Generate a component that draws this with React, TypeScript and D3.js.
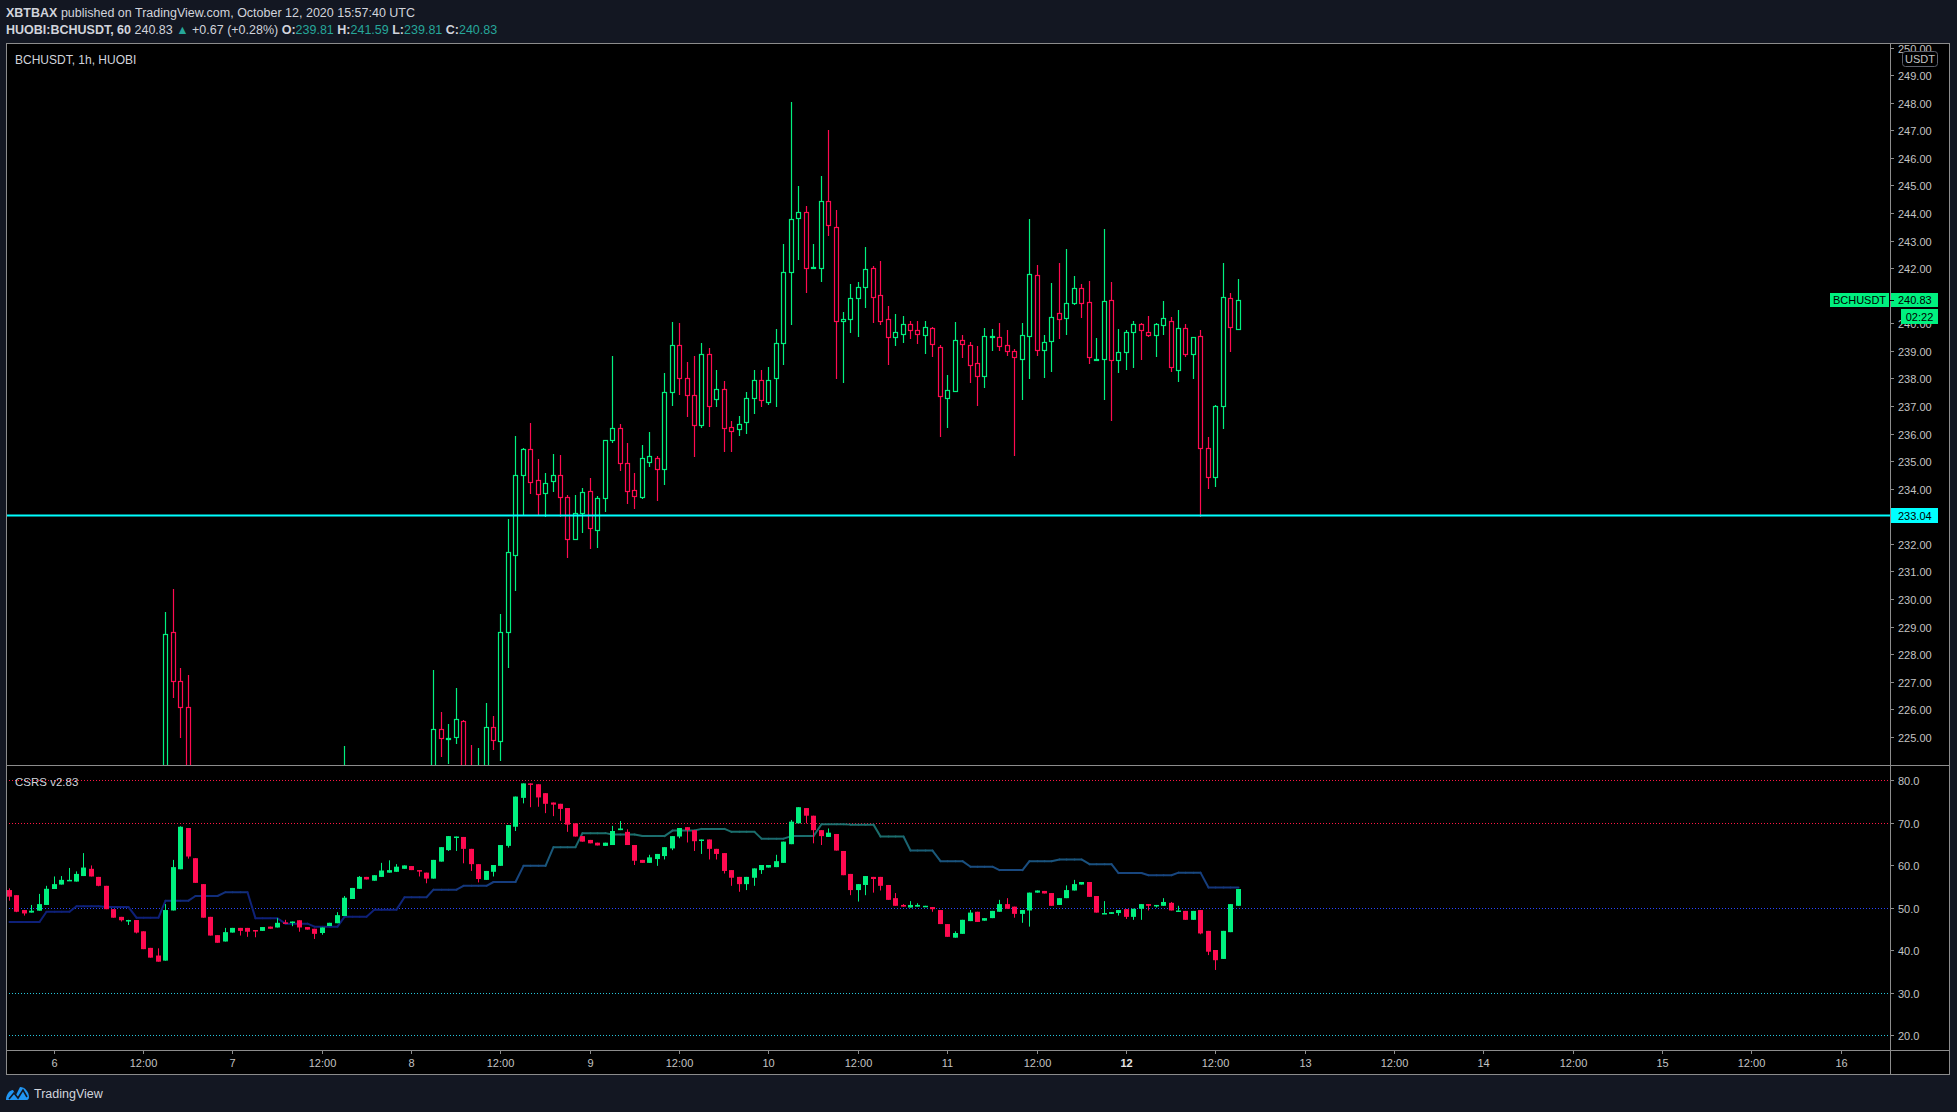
import React from 'react';
import * as d3 from 'd3';

// ---------- time axis ----------
const firstCandleUtc = Date.UTC(2020, 9, 5, 18);
const lastCandleUtc = Date.UTC(2020, 9, 12, 15);
const dayTicks = [6, 7, 8, 9, 10, 11, 12, 13, 14, 15, 16];
const priceTicks = [225, 226, 227, 228, 229, 230, 231, 232, 233, 234, 235, 236, 237, 238, 239, 240, 241, 242, 243, 244, 245, 246, 247, 248, 249, 250];
const csrsTicks = [20, 30, 40, 50, 60, 70, 80];

// ---------- BCHUSDT 1h OHLC (Oct 5 18:00 → Oct 12 15:00 UTC) ----------
const priceOpen = [
  222.4, 222.1, 221.7, 221.5, 222.0, 222.4, 222.9, 223.1, 223.3, 223.2, 223.4, 223.6, 223.1, 222.7, 222.1, 221.7, 221.4, 221.4, 220.9, 220.4,
  220.1, 220.5, 228.81, 227.02, 226.08, 223.0, 222.5, 221.9, 221.3, 221.0, 221.6, 221.9, 221.7, 221.5, 221.4, 221.8, 221.7, 222.1, 222.0, 222.1,
  221.6, 221.5, 221.1, 221.6, 221.9, 222.5, 223.4, 223.7, 223.8, 223.5, 223.7, 223.8, 223.85, 223.9, 223.9, 223.6, 223.5, 223.1, 225.28, 224.95,
  225.01, 225.57, 223.5, 223.3, 223.8, 225.35, 224.84, 228.82, 231.61, 234.49, 235.43, 234.3, 233.86, 234.29, 234.49, 233.69, 232.17, 233.13, 233.91, 232.52,
  233.65, 235.76, 236.19, 234.92, 233.95, 233.69, 234.96, 235.1, 234.7, 237.5, 239.2, 238.0, 237.4, 236.3, 238.9, 237.25, 237.6, 236.23, 236.16, 236.41,
  237.3, 237.94, 237.16, 238.0, 239.27, 241.85, 243.8, 244.03, 242.0, 242.0, 244.42, 243.48, 240.07, 240.14, 240.9, 241.3, 241.99, 241.04, 240.14, 239.5,
  239.62, 239.96, 239.74, 239.56, 239.82, 239.13, 237.28, 237.55, 239.39, 239.2, 238.55, 238.08, 239.5, 239.5, 239.2, 238.99, 238.72, 239.53, 241.74, 239.04,
  239.35, 240.36, 240.18, 240.73, 241.27, 240.76, 238.66, 238.72, 240.83, 238.66, 238.97, 239.68, 239.96, 239.67, 239.56, 239.92, 240.1, 238.32, 239.82, 238.9,
  239.53, 235.47, 234.41, 236.99, 240.9, 239.81,
];
const priceHigh = [
  222.9, 222.3, 222.0, 222.2, 222.6, 223.1, 223.3, 223.5, 223.7, 223.6, 223.8, 223.7, 223.3, 222.8, 222.3, 221.9, 221.6, 221.5, 221.1, 220.6,
  220.9, 229.53, 230.36, 227.5, 227.24, 223.6, 222.8, 222.1, 221.6, 221.9, 222.1, 222.0, 221.9, 221.8, 222.0, 222.0, 222.3, 222.4, 222.3, 222.2,
  221.8, 221.6, 221.8, 222.1, 222.7, 224.67, 223.9, 223.95, 223.9, 223.9, 223.95, 223.95, 223.95, 223.95, 223.95, 223.8, 223.7, 227.43, 225.9, 225.47,
  226.78, 225.6, 224.71, 224.6, 226.22, 225.76, 229.46, 232.9, 235.91, 235.47, 236.38, 235.08, 234.57, 235.26, 235.22, 233.76, 233.76, 234.02, 234.38, 233.73,
  235.76, 238.8, 236.35, 235.65, 234.57, 235.57, 236.05, 235.2, 238.2, 240.05, 240.0, 238.6, 238.8, 239.3, 239.1, 238.3, 237.9, 236.45, 236.63, 237.5,
  238.3, 238.31, 238.4, 239.79, 242.87, 248.02, 244.98, 244.26, 242.87, 245.35, 247.01, 244.1, 240.41, 241.41, 241.49, 242.76, 242.06, 242.25, 240.61, 240.32,
  240.28, 240.07, 240.07, 240.07, 239.85, 239.2, 238.11, 240.04, 239.57, 239.31, 239.17, 239.82, 239.79, 240.0, 239.74, 239.08, 240.0, 243.77, 242.1, 239.56,
  241.45, 242.18, 242.69, 241.71, 241.41, 241.52, 239.46, 243.41, 241.49, 239.79, 239.75, 240.07, 240.0, 240.25, 240.0, 240.81, 240.22, 240.47, 239.96, 239.52,
  239.74, 235.87, 237.03, 242.19, 241.09, 241.59,
];
const priceLow = [
  221.8, 221.5, 221.2, 221.4, 221.8, 222.2, 222.6, 222.9, 223.0, 222.9, 223.1, 223.0, 222.5, 221.9, 221.5, 221.2, 221.0, 220.7, 220.2, 219.8,
  219.6, 220.3, 226.42, 224.97, 222.6, 222.2, 221.6, 221.0, 220.8, 220.9, 221.4, 221.4, 221.3, 221.2, 221.3, 221.5, 221.6, 221.8, 221.7, 221.4,
  221.3, 220.9, 221.0, 221.5, 221.8, 222.3, 223.1, 223.3, 223.3, 223.3, 223.4, 223.5, 223.5, 223.6, 223.5, 223.2, 222.9, 222.9, 224.28, 224.03,
  224.73, 223.2, 223.0, 223.1, 223.6, 224.53, 224.14, 227.51, 230.3, 233.05, 233.82, 233.05, 232.99, 233.89, 232.99, 231.5, 232.17, 232.41, 231.83, 231.86,
  233.17, 235.67, 234.63, 233.44, 233.25, 233.62, 234.8, 233.54, 234.12, 237.0, 237.4, 236.59, 235.16, 236.2, 236.25, 236.98, 235.34, 235.34, 235.92, 235.97,
  236.71, 236.98, 237.04, 236.98, 238.49, 239.94, 242.28, 241.11, 242.0, 241.49, 243.18, 237.99, 237.85, 239.65, 239.52, 240.54, 240.01, 239.93, 238.5, 239.17,
  239.28, 239.42, 239.24, 238.88, 238.77, 235.87, 236.19, 237.5, 238.73, 237.83, 237.01, 237.65, 238.99, 238.99, 238.81, 235.2, 237.22, 237.99, 238.82, 238.03,
  238.24, 239.42, 239.59, 240.68, 240.18, 238.51, 238.66, 237.22, 236.47, 238.21, 238.32, 238.39, 238.66, 239.49, 238.79, 239.56, 238.24, 237.88, 238.79, 237.99,
  232.99, 234.0, 234.05, 236.18, 238.97, 239.81,
];
const priceClose = [
  222.1, 221.7, 221.5, 222.0, 222.4, 222.9, 223.1, 223.3, 223.2, 223.4, 223.6, 223.1, 222.7, 222.1, 221.7, 221.4, 221.4, 220.9, 220.4, 220.1,
  220.5, 228.72, 227.02, 226.1, 223.0, 222.5, 221.9, 221.3, 221.0, 221.6, 221.9, 221.7, 221.5, 221.4, 221.8, 221.7, 222.1, 222.0, 222.1, 221.6,
  221.5, 221.1, 221.6, 221.9, 222.5, 223.4, 223.7, 223.8, 223.5, 223.7, 223.8, 223.85, 223.9, 223.9, 223.6, 223.5, 223.1, 225.28, 224.95, 224.97,
  225.64, 223.5, 223.3, 223.8, 225.35, 224.88, 228.8, 231.69, 234.49, 235.43, 234.23, 233.82, 234.2, 234.49, 233.69, 232.17, 233.11, 233.87, 232.59, 233.65,
  235.76, 236.19, 234.92, 233.91, 233.73, 235.1, 235.18, 234.7, 237.5, 239.2, 238.0, 237.4, 236.3, 238.9, 237.0, 237.6, 236.19, 236.1, 236.34, 237.3,
  237.94, 237.22, 237.96, 239.27, 241.85, 243.77, 244.03, 241.99, 242.05, 244.42, 243.55, 240.07, 240.17, 240.9, 241.3, 241.95, 240.97, 240.1, 239.5, 239.68,
  239.96, 239.74, 239.6, 239.85, 239.24, 237.36, 237.57, 239.39, 239.24, 238.48, 238.08, 239.53, 239.53, 239.17, 238.99, 238.77, 239.56, 241.77, 239.04, 239.31,
  240.22, 240.14, 240.72, 241.27, 240.72, 238.77, 238.72, 240.8, 238.66, 238.97, 239.7, 239.96, 239.74, 239.56, 239.96, 240.18, 238.4, 239.82, 238.9, 239.49,
  235.47, 234.41, 236.99, 240.94, 239.85, 240.83,
];

// ---------- CSRS v2.83 indicator candles ----------
const csrsOpen = [
  54.1, 52.9, 49.4, 48.8, 49.25, 50.6, 54.35, 55.4, 56.4, 56.1, 57.4, 59.1, 57.2, 55.1, 49.6, 47.8, 47.0, 47.05, 44.4, 40.5,
  38.7, 37.5, 49.3, 59.0, 68.7, 61.6, 55.5, 47.8, 43.5, 42.0, 44.1, 45.2, 45.2, 44.7, 44.5, 45.5, 45.3, 46.5, 46.6, 47.0,
  45.4, 45.0, 44.0, 45.65, 46.3, 48.0, 52.0, 54.4, 57.2, 56.3, 57.2, 58.2, 58.4, 59.1, 59.75, 58.8, 58.2, 56.8, 60.8, 63.5,
  66.4, 66.6, 63.8, 60.2, 56.5, 58.4, 59.8, 64.5, 69.0, 75.8, 79.2, 79.0, 76.9, 74.7, 74.4, 73.4, 69.8, 66.8, 65.9, 65.25,
  64.5, 64.7, 68.2, 67.8, 64.7, 61.2, 60.5, 61.4, 62.1, 63.9, 66.7, 68.9, 68.2, 65.7, 66.0, 63.8, 62.8, 58.8, 57.2, 55.5,
  57.0, 58.8, 59.4, 59.5, 60.5, 64.9, 69.8, 73.4, 71.6, 68.2, 66.6, 67.3, 63.3, 57.9, 54.1, 55.3, 57.2, 57.2, 55.3, 52.2,
  50.6, 50.0, 50.2, 50.2, 50.1, 49.4, 46.1, 42.9, 43.8, 46.8, 49.0, 46.9, 47.5, 49.0, 50.8, 50.2, 48.5, 49.3, 53.5, 53.9,
  53.4, 50.6, 52.2, 54.0, 55.4, 56.0, 52.7, 48.6, 48.5, 48.7, 49.6, 47.8, 49.7, 50.8, 50.4, 50.4, 51.1, 49.2, 49.2, 47.1,
  49.4, 44.5, 40.0, 37.9, 44.2, 50.4,
];
const csrsHigh = [
  54.5, 52.9, 49.4, 50.6, 53.2, 55.1, 57.3, 57.4, 59.3, 58.5, 62.8, 59.9, 57.2, 55.1, 49.6, 47.8, 47.1, 47.05, 44.4, 40.5,
  40.4, 50.8, 61.2, 69.1, 68.7, 61.6, 55.5, 47.8, 43.5, 45.2, 45.2, 45.2, 45.2, 44.7, 45.4, 45.5, 47.5, 47.1, 46.7, 47.0,
  45.4, 45.0, 45.3, 46.4, 48.9, 52.7, 54.6, 57.4, 57.2, 57.6, 60.5, 61.1, 60.2, 59.9, 59.75, 58.8, 58.2, 61.2, 64.2, 66.8,
  66.7, 66.6, 63.8, 60.2, 58.6, 60.0, 64.7, 69.4, 76.1, 79.2, 79.2, 79.0, 76.9, 74.7, 74.4, 73.4, 69.8, 66.8, 65.9, 65.25,
  65.25, 69.2, 70.35, 68.4, 64.7, 61.2, 62.4, 62.6, 64.2, 66.8, 68.7, 68.9, 68.2, 66.0, 66.0, 63.8, 62.8, 58.8, 57.2, 57.2,
  59.2, 60.0, 60.0, 62.4, 65.5, 70.6, 73.6, 73.4, 71.6, 68.2, 68.6, 67.3, 63.3, 57.9, 55.5, 57.4, 57.2, 57.2, 55.3, 53.4,
  50.8, 51.5, 51.0, 50.4, 50.1, 49.4, 46.1, 44.4, 47.1, 49.4, 49.0, 47.5, 49.2, 51.8, 52.2, 50.2, 49.4, 53.5, 54.0, 53.9,
  53.4, 52.2, 55.2, 56.5, 56.0, 56.0, 52.7, 51.5, 48.9, 49.4, 49.6, 49.7, 50.8, 50.8, 50.6, 52.2, 51.3, 50.4, 49.2, 49.2,
  49.4, 44.5, 40.0, 44.5, 50.8, 54.35,
];
const csrsLow = [
  51.6, 48.9, 48.1, 48.8, 49.25, 50.6, 54.35, 55.4, 56.4, 56.1, 57.4, 57.3, 55.0, 49.6, 47.6, 46.7, 45.9, 43.9, 40.2, 38.2,
  37.25, 37.5, 49.3, 59.0, 61.5, 55.8, 47.6, 43.4, 41.7, 42.0, 44.1, 43.4, 43.1, 43.0, 44.5, 45.0, 45.3, 46.4, 45.6, 44.3,
  44.8, 42.6, 43.6, 45.65, 46.3, 48.0, 52.0, 54.4, 56.6, 56.3, 57.2, 58.2, 58.4, 59.1, 58.8, 57.3, 55.7, 56.8, 60.8, 63.3,
  63.3, 60.4, 58.6, 55.9, 56.5, 57.3, 59.8, 64.1, 68.0, 74.5, 73.6, 73.7, 72.2, 71.5, 70.4, 67.8, 66.7, 65.5, 65.1, 64.6,
  64.5, 64.7, 68.2, 64.7, 60.0, 60.5, 60.5, 59.8, 61.3, 63.5, 66.3, 65.3, 63.3, 62.6, 61.3, 61.3, 58.0, 55.1, 53.7, 54.1,
  55.1, 57.9, 59.4, 59.5, 60.5, 64.9, 69.8, 69.8, 65.1, 64.7, 66.6, 63.4, 57.6, 52.9, 51.4, 52.9, 53.5, 54.0, 51.8, 50.4,
  50.2, 50.0, 50.2, 50.2, 49.0, 46.1, 43.1, 42.9, 43.8, 46.8, 46.6, 46.9, 47.5, 49.0, 49.7, 47.6, 46.4, 45.5, 53.5, 53.3,
  50.4, 50.6, 52.2, 54.0, 55.4, 52.5, 48.8, 48.6, 48.5, 48.1, 47.3, 47.1, 47.1, 49.3, 50.0, 50.4, 49.3, 49.2, 47.1, 47.1,
  43.7, 38.8, 35.3, 37.9, 44.2, 50.4,
];
const csrsClose = [
  52.55, 49.0, 48.6, 49.25, 50.8, 54.4, 55.5, 56.5, 56.5, 57.9, 59.4, 57.3, 55.1, 49.6, 47.6, 47.0, 47.05, 44.1, 40.2, 38.2,
  37.25, 49.4, 59.5, 69.0, 62.0, 55.8, 47.6, 43.4, 41.7, 44.2, 45.2, 44.5, 44.3, 44.6, 45.4, 45.0, 46.4, 46.4, 46.7, 45.3,
  44.8, 43.8, 45.3, 46.4, 48.2, 52.3, 54.6, 57.2, 56.6, 57.6, 58.7, 58.8, 59.6, 59.9, 58.8, 58.5, 56.8, 61.2, 64.2, 66.8,
  66.7, 63.8, 60.2, 56.7, 58.6, 60.0, 64.7, 69.4, 76.1, 79.2, 78.9, 75.9, 74.4, 74.2, 73.2, 69.5, 66.7, 65.5, 65.1, 64.6,
  65.25, 68.0, 68.6, 64.7, 61.0, 60.5, 61.8, 62.6, 64.2, 66.8, 68.7, 68.2, 65.6, 66.0, 63.8, 62.6, 58.6, 57.0, 55.5, 57.2,
  59.2, 60.0, 60.0, 60.9, 65.5, 70.2, 73.6, 71.6, 68.2, 66.8, 67.6, 63.4, 57.6, 54.1, 55.5, 57.4, 56.7, 55.1, 51.8, 50.4,
  50.2, 50.6, 50.6, 50.4, 49.6, 46.1, 43.1, 44.0, 47.1, 48.8, 46.6, 47.5, 49.2, 50.8, 49.7, 48.5, 49.4, 53.5, 54.0, 53.3,
  50.4, 52.2, 54.1, 55.5, 56.0, 52.5, 48.8, 48.7, 48.9, 49.4, 47.8, 49.7, 50.8, 50.4, 50.6, 51.3, 49.3, 49.3, 47.1, 49.2,
  43.9, 39.6, 37.6, 44.5, 50.8, 54.35,
];
// signal line: one value per 4-hour block (first block = candles 0..4)
const csrsSignalBlocks = [
  46.6, 49.0, 50.3, 50.1, 47.6, 51.6, 52.7, 53.6, 47.45, 46.2, 45.5, 47.8, 49.5, 52.4, 54.2, 55.1, 56.0, 59.8, 64.2, 67.5,
  67.2, 66.8, 68.1, 68.5, 67.8, 66.2, 66.8, 69.6, 69.5, 66.7, 63.4, 60.9, 59.6, 58.8, 60.9, 61.3, 60.2, 58.1, 57.6, 58.2,
  54.7, 54.7,
];

const UP = '#00f07f';
const DOWN = '#ff0a50';
const FRAME = '#8c8c8c';
const TXT = '#c3c3c3';
const FONT = '"Liberation Sans", Arial, sans-serif';

export default function App() {
  const W = 1957, H = 1112;
  const L = 6, T = 43, R = 1950, B = 1075, AX = 1890, MB = 765, IB = 1050;

  const x = d3.scaleUtc().domain([new Date(firstCandleUtc), new Date(lastCandleUtc)]).range([9.0, 1237.6]);
  const yP = d3.scaleLinear().domain([224, 250]).range([764.5, 47.5]);
  const yI = d3.scaleLinear().domain([20, 80]).range([1035, 780]);
  const sigColor = d3.scaleLinear<string>().domain([50, 60, 67]).range(['#0e2078', '#1a4f80', '#1b6e6c']).clamp(true);

  const n = priceClose.length;
  const idx = d3.range(n);
  const cxs = idx.map((i) => Math.round(x(new Date(firstCandleUtc + i * 3600000))));

  const mainCandles = idx.map((i) => {
    const o = priceOpen[i], h = priceHigh[i], l = priceLow[i], c = priceClose[i];
    const col = c >= o ? UP : DOWN;
    const cx = cxs[i];
    const top = Math.round(yP(Math.max(o, c)));
    const bot = Math.round(yP(Math.min(o, c)));
    const yh = Math.round(yP(h));
    const yl = Math.round(yP(l));
    const bh = Math.max(1, bot - top);
    return (
      <g key={'m' + i} stroke={col} fill="none" strokeWidth={1.2}>
        {yh < top && <line x1={cx + 0.5} x2={cx + 0.5} y1={yh} y2={top} />}
        {yl > top + bh && <line x1={cx + 0.5} x2={cx + 0.5} y1={top + bh} y2={yl} />}
        <rect x={cx - 1.5} y={top + 0.5} width={4} height={bh} />
      </g>
    );
  });

  const indCandles = idx.map((i) => {
    const o = csrsOpen[i], h = csrsHigh[i], l = csrsLow[i], c = csrsClose[i];
    const col = c >= o ? UP : DOWN;
    const cx = cxs[i];
    const top = yI(Math.max(o, c));
    const bot = yI(Math.min(o, c));
    return (
      <g key={'c' + i}>
        <line x1={cx + 0.5} x2={cx + 0.5} y1={yI(h)} y2={yI(l)} stroke={col} strokeWidth={1} />
        <rect x={cx - 2} y={top} width={5} height={Math.max(1.5, bot - top)} fill={col} />
      </g>
    );
  });

  const sigVals = idx.map((i) => csrsSignalBlocks[Math.max(0, Math.floor((i - 1) / 4))]);
  const sigSegs = idx.slice(1).map((i) => (
    <line
      key={'s' + i}
      x1={cxs[i - 1] + 0.5}
      x2={cxs[i] + 0.5}
      y1={yI(sigVals[i - 1])}
      y2={yI(sigVals[i])}
      stroke={sigColor((sigVals[i - 1] + sigVals[i]) / 2)}
      strokeWidth={2}
      strokeLinecap="round"
    />
  ));

  const levelLines = [
    { v: 80, c: '#ff1744' },
    { v: 70, c: '#ff1744' },
    { v: 50, c: '#2a45ff' },
    { v: 30, c: '#26c6da' },
    { v: 20, c: '#26c6da' },
  ];

  const timeTicks: { t: Date; label: string; bold: boolean }[] = [];
  dayTicks.forEach((d, k) => {
    timeTicks.push({ t: new Date(Date.UTC(2020, 9, d)), label: String(d), bold: d === 12 });
    if (k < dayTicks.length - 1) timeTicks.push({ t: new Date(Date.UTC(2020, 9, d, 12)), label: '12:00', bold: false });
  });

  const cyanY = Math.round(yP(233.04)) + 0.5;
  const lastY = yP(240.83);

  return (
    <svg width={W} height={H} style={{ position: 'absolute', left: 0, top: 0, background: '#131722' }} fontFamily={FONT}>
      <defs>
        <clipPath id="mainClip"><rect x={L + 1} y={T + 1} width={AX - L - 1} height={MB - T - 1} /></clipPath>
        <clipPath id="indClip"><rect x={L + 1} y={MB + 1} width={AX - L - 1} height={IB - MB - 1} /></clipPath>
        <clipPath id="axClip"><rect x={AX + 1} y={T + 1} width={R - AX - 1} height={MB - T - 1} /></clipPath>
      </defs>
      <rect x={0} y={0} width={W} height={H} fill="#131722" />
      {/* header */}
      <text x={6} y={17} fontSize={12.5} fill="#d1d4dc">
        <tspan fontWeight="bold">XBTBAX</tspan>
        <tspan> published on TradingView.com, October 12, 2020 15:57:40 UTC</tspan>
      </text>
      <text x={6} y={33.5} fontSize={12.5} fill="#d1d4dc">
        <tspan fontWeight="bold">HUOBI:BCHUSDT, 60</tspan>
        <tspan> 240.83 </tspan>
        <tspan fill="#26a69a">▲</tspan>
        <tspan> +0.67 (+0.28%) </tspan>
        <tspan fontWeight="bold">O:</tspan><tspan fill="#26a69a">239.81 </tspan>
        <tspan fontWeight="bold">H:</tspan><tspan fill="#26a69a">241.59 </tspan>
        <tspan fontWeight="bold">L:</tspan><tspan fill="#26a69a">239.81 </tspan>
        <tspan fontWeight="bold">C:</tspan><tspan fill="#26a69a">240.83</tspan>
      </text>

      {/* chart frame */}
      <rect x={L + 0.5} y={T + 0.5} width={R - L - 1} height={B - T - 1} fill="#000" stroke={FRAME} strokeWidth={1} />
      <line x1={AX + 0.5} x2={AX + 0.5} y1={T} y2={B} stroke={FRAME} />
      <line x1={L} x2={R} y1={MB + 0.5} y2={MB + 0.5} stroke={FRAME} />
      <line x1={L} x2={R} y1={IB + 0.5} y2={IB + 0.5} stroke={FRAME} />

      {/* main pane */}
      <g clipPath="url(#mainClip)">
        {mainCandles}
        <line x1={L} x2={AX} y1={cyanY} y2={cyanY} stroke="#00ffff" strokeWidth={2} />
      </g>
      <text x={15} y={64} fontSize={12} fill="#d1d4dc">BCHUSDT, 1h, HUOBI</text>

      {/* indicator pane */}
      <g clipPath="url(#indClip)">
        {levelLines.map((d) => (
          <line key={'lv' + d.v} x1={L} x2={AX} y1={Math.round(yI(d.v)) + 0.5} y2={Math.round(yI(d.v)) + 0.5} stroke={d.c} strokeWidth={1} strokeDasharray="1 2" />
        ))}
        {sigSegs}
        {indCandles}
      </g>
      <text x={15} y={786} fontSize={11.5} fill="#d1d4dc">CSRS v2.83</text>

      {/* price axis */}
      <g clipPath="url(#axClip)">
        {priceTicks.map((p) => {
          const yy = Math.round(yP(p)) + 0.5;
          return (
            <g key={'p' + p}>
              <line x1={AX} x2={AX + 4} y1={yy} y2={yy} stroke={FRAME} />
              <text x={1898} y={yy + 4} fontSize={11} fill={TXT}>{p.toFixed(2)}</text>
            </g>
          );
        })}
      </g>
      <rect x={1902.5} y={51.5} width={35} height={15} rx={3} fill="#000" stroke="#5d606b" />
      <text x={1920} y={62.5} fontSize={11} fill={TXT} textAnchor="middle">USDT</text>

      {/* last price labels */}
      <rect x={1830} y={Math.round(lastY) - 7} width={59} height={14} fill={UP} />
      <text x={1859.5} y={Math.round(lastY) + 4} fontSize={11} fill="#000" textAnchor="middle">BCHUSDT</text>
      <rect x={AX + 1} y={Math.round(lastY) - 7} width={47} height={14} fill={UP} />
      <line x1={AX} x2={AX + 4} y1={Math.round(lastY) + 0.5} y2={Math.round(lastY) + 0.5} stroke="#000" />
      <text x={1898} y={Math.round(lastY) + 4} fontSize={11} fill="#000">240.83</text>
      <rect x={1901} y={Math.round(lastY) + 9} width={37} height={15} fill={UP} />
      <text x={1919.5} y={Math.round(lastY) + 20.5} fontSize={11} fill="#000" textAnchor="middle">02:22</text>

      <rect x={AX + 1} y={cyanY - 7.5} width={47} height={15} fill="#00ffff" />
      <text x={1898} y={cyanY + 4} fontSize={11} fill="#000">233.04</text>

      {/* csrs axis */}
      {csrsTicks.map((v) => {
        const yy = Math.round(yI(v)) + 0.5;
        return (
          <g key={'i' + v}>
            <line x1={AX} x2={AX + 4} y1={yy} y2={yy} stroke={FRAME} />
            <text x={1898} y={yy + 4} fontSize={11} fill={TXT}>{v.toFixed(1)}</text>
          </g>
        );
      })}

      {/* time axis */}
      {timeTicks.map((d, k) => {
        const xx = Math.round(x(d.t)) + 0.5;
        return (
          <g key={'t' + k}>
            <line x1={xx} x2={xx} y1={IB} y2={IB + 4} stroke={FRAME} />
            <text x={xx} y={1067} fontSize={11} fill={d.bold ? '#e6e6e6' : TXT} fontWeight={d.bold ? 'bold' : 'normal'} textAnchor="middle">{d.label}</text>
          </g>
        );
      })}

      {/* footer logo */}
      <g>
        <path d="M6,1100 C6,1094 10,1090 13,1090 L16,1095 L20,1087 C25,1087 29,1092 29,1097 C29,1099 28,1100 27,1100 Z" fill="#2196f3" />
        <path d="M9,1099 L14,1093 L18,1098 L23,1090 L27,1097" fill="none" stroke="#131722" strokeWidth={1.6} />
        <text x={34} y={1098} fontSize={12.5} fill="#d1d4dc">TradingView</text>
      </g>
    </svg>
  );
}
